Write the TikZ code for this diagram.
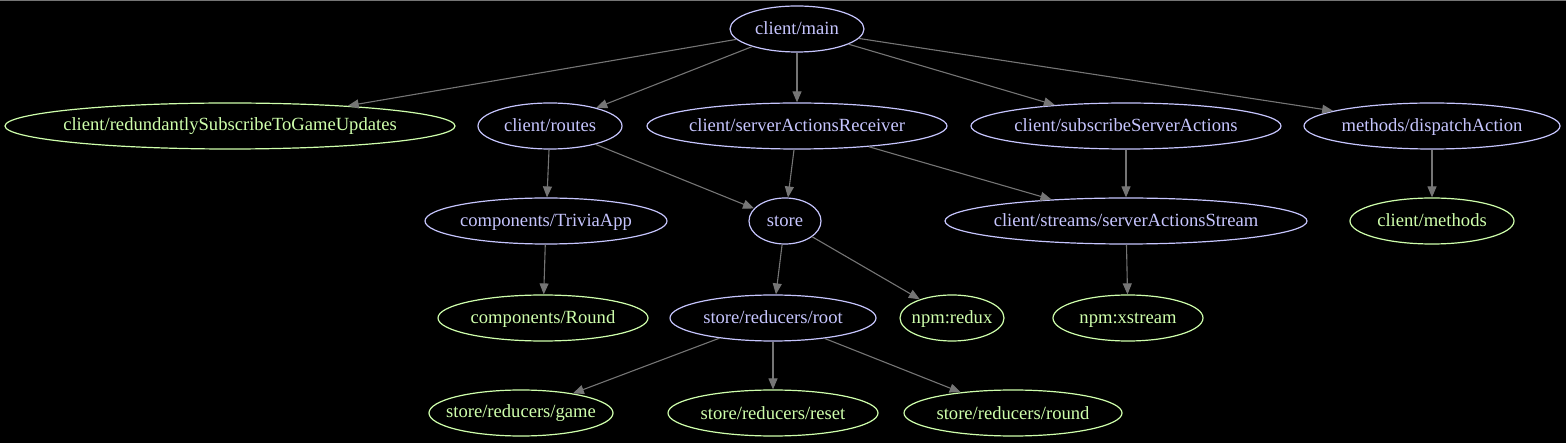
\documentclass[tikz,border=0pt]{standalone}
\usepackage{fontspec}
\setmainfont{Liberation Serif}
\usetikzlibrary{shapes.geometric,arrows.meta}
\definecolor{bgc}{HTML}{000000}
\definecolor{blu}{HTML}{C6C5FE}
\definecolor{grn}{HTML}{CFFFAC}
\definecolor{edg}{HTML}{757575}
\newcommand{\ztxt}[1]{\makebox[0pt]{\rule[-2pt]{0pt}{16pt}#1}}
\tikzset{
  mod/.style={ellipse,draw=blu,text=blu,line width=1.2pt,inner sep=0pt,minimum height=46pt,font=\fontsize{18.6}{19}\selectfont},
  leaf/.style={mod,draw=grn,text=grn},
  dep/.style={draw=edg,line width=1.1pt,-{Triangle[length=11pt,width=9pt]}},
}
\begin{document}
\begin{tikzpicture}[x=1pt,y=-1pt]
\fill[bgc] (0,0) rectangle (1566,443);
\useasboundingbox (0,0) rectangle (1566,443);
\draw[edg,line width=1.2pt] (0,0.6) -- (1566,0.6);
\node[mod,minimum width=134pt] (main) at (797,29) {\ztxt{client/main}};
\node[leaf,minimum width=450pt] (red) at (230,126) {\ztxt{client/redundantlySubscribeToGameUpdates}};
\node[mod,minimum width=144pt] (routes) at (550,126) {\ztxt{client/routes}};
\node[mod,minimum width=300pt] (recv) at (797,126) {\ztxt{client/serverActionsReceiver}};
\node[mod,minimum width=310pt] (subs) at (1126,126) {\ztxt{client/subscribeServerActions}};
\node[mod,minimum width=256pt] (disp) at (1432,126) {\ztxt{methods/dispatchAction}};
\node[mod,minimum width=242pt] (trivia) at (546,221) {\ztxt{components/TriviaApp}};
\node[mod,minimum width=72pt] (store) at (785,221) {\ztxt{store}};
\node[mod,minimum width=362pt] (stream) at (1126,221) {\ztxt{client/streams/serverActionsStream}};
\node[leaf,minimum width=164pt] (methods) at (1432,221) {\ztxt{client/methods}};
\node[leaf,minimum width=210pt] (round) at (543,318) {\ztxt{components/Round}};
\node[mod,minimum width=206pt] (root) at (773,318) {\ztxt{store/reducers/root}};
\node[leaf,minimum width=104pt] (redux) at (952,318) {\ztxt{npm:redux}};
\node[leaf,minimum width=150pt] (xs) at (1128,318) {\ztxt{npm:xstream}};
\node[leaf,minimum width=184pt] (game) at (521,413) {\ztxt{store/reducers/game}};
\node[leaf,minimum width=210pt] (reset) at (773,413) {\ztxt{store/reducers/reset}};
\node[leaf,minimum width=218pt] (rround) at (1013,413) {\ztxt{store/reducers/round}};
\draw[dep] (main) -- (red);
\draw[dep] (main) -- (routes);
\draw[dep] (main) -- (recv);
\draw[dep] (main) -- (subs);
\draw[dep] (main) -- (disp);
\draw[dep] (routes) -- (trivia);
\draw[dep] (routes) -- (store);
\draw[dep] (recv) -- (store);
\draw[dep] (recv) -- (stream);
\draw[dep] (subs) -- (stream);
\draw[dep] (disp) -- (methods);
\draw[dep] (trivia) -- (round);
\draw[dep] (store) -- (root);
\draw[dep] (store) -- (redux);
\draw[dep] (stream) -- (xs);
\draw[dep] (root) -- (game);
\draw[dep] (root) -- (reset);
\draw[dep] (root) -- (rround);
\end{tikzpicture}
\end{document}
